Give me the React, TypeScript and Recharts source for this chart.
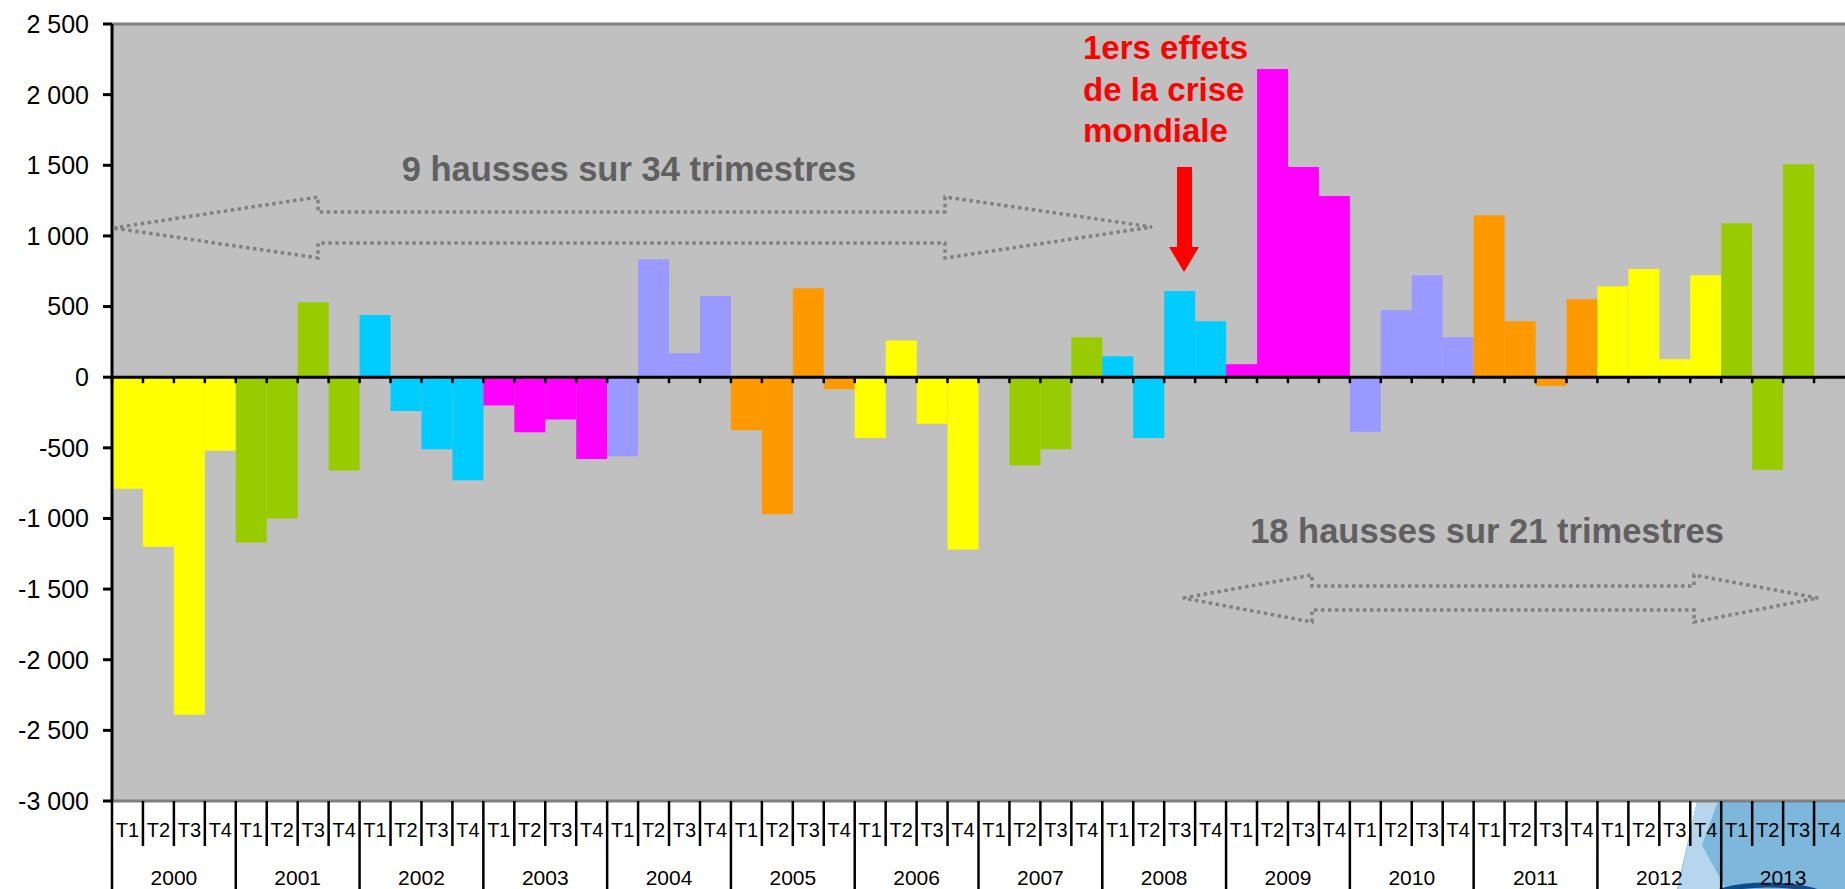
import React from "react";
import { Bar, BarChart, CartesianGrid, Cell, ReferenceLine, XAxis, YAxis } from "recharts";

const years = ["2000", "2001", "2002", "2003", "2004", "2005", "2006", "2007", "2008", "2009", "2010", "2011", "2012", "2013"];
const quarters = ["T1", "T2", "T3", "T4"];

// variation trimestrielle, T1..T4 par année
const values: (number | null)[] = [
  -790, -1200, -2390, -520, // 2000
  -1170, -1000, 530, -660, // 2001
  440, -240, -510, -730, // 2002
  -200, -390, -300, -580, // 2003
  -560, 835, 170, 575, // 2004
  -375, -970, 630, -85, // 2005
  -430, 260, -330, -1220, // 2006
  0, -625, -510, 283, // 2007
  148, -430, 610, 396, // 2008
  92, 2182, 1488, 1282, // 2009
  -387, 474, 722, 283, // 2010
  1147, 396, -62, 552, // 2011
  644, 765, 127, 722, // 2012
  1090, -656, 1508, null, // 2013
];

const yearColors = ["#FFFF00", "#99CC00", "#00CCFF", "#FF00FF", "#9999FF", "#FF9900"];
const yTicks = [-3000, -2500, -2000, -1500, -1000, -500, 0, 500, 1000, 1500, 2000, 2500];

const data = values.map((v, i) => ({
  label: `${years[Math.floor(i / 4)]} ${quarters[i % 4]}`,
  year: years[Math.floor(i / 4)],
  value: v,
}));

const W = 1845;
const H = 889;
const Y_AXIS_W = 112;
const BW = (W - Y_AXIS_W) / data.length;
const FONT = "'Liberation Sans', Arial, sans-serif";

const fmt = (v: number) => {
  const a = Math.abs(v);
  const s = a >= 1000 ? `${Math.floor(a / 1000)} ${String(a % 1000).padStart(3, "0")}` : String(a);
  return v < 0 ? `-${s}` : s;
};

const QuarterTick = (props: any) => {
  const { x, y, index } = props;
  const q = index % 4;
  const left = x - BW / 2;
  return (
    <g>
      <line x1={left} x2={left} y1={y} y2={q === 0 ? y + 90 : y + 45} stroke="#000" strokeWidth={2.5} />
      <text x={x} y={y + 29} textAnchor="middle" dominantBaseline="central" fontSize={20} fontFamily={FONT} fill="#000">
        {quarters[q]}
      </text>
      {q === 2 && (
        <text x={left} y={y + 76} textAnchor="middle" dominantBaseline="central" fontSize={21} fontFamily={FONT} fill="#000">
          {data[index].year}
        </text>
      )}
    </g>
  );
};

const ZeroAxis = (props: any) => {
  const x1 = Math.min(props.x1, props.x2);
  const x2 = Math.max(props.x1, props.x2);
  const y = props.y1;
  const step = (x2 - x1) / data.length;
  return (
    <g>
      <line x1={x1} x2={x2} y1={y} y2={y} stroke="#000" strokeWidth={3} />
      {data.map((_, i) => (
        <line key={i} x1={x1 + i * step} x2={x1 + i * step} y1={y} y2={y + 6} stroke="#000" strokeWidth={2.5} />
      ))}
    </g>
  );
};

const dotted = { fill: "none", stroke: "#808080", strokeWidth: 3.5, strokeDasharray: "3.5 3.5" };

export default function App() {
  return (
    <div style={{ position: "absolute", left: 0, top: 0, width: W, height: H, background: "#fff" }}>
      <svg width={W} height={H} style={{ position: "absolute", left: 0, top: 0 }}>
        <polygon points="1697,801 1845,801 1845,889 1677,889" fill="#7DB7DC" />
        <polygon points="1697,801 1718,801 1702,845 1726,889 1678,889" fill="#B5D6EC" />
        <ellipse cx={1768} cy={902} rx={62} ry={17} fill="none" stroke="#0D4B8C" strokeWidth={5} />
      </svg>
      <div style={{ position: "absolute", left: 0, top: 0 }}>
        <BarChart
          width={W}
          height={H}
          data={data}
          margin={{ top: 24, right: 0, bottom: 0, left: 0 }}
          barCategoryGap={0}
          barGap={0}
        >
          <CartesianGrid fill="#C0C0C0" horizontal={false} vertical={false} stroke="none" />
          <XAxis
            dataKey="label"
            interval={0}
            height={88}
            tickSize={0}
            tickMargin={0}
            tickLine={false}
            axisLine={{ stroke: "#808080", strokeWidth: 3 }}
            tick={<QuarterTick />}
          />
          <YAxis
            domain={[-3000, 2500]}
            ticks={yTicks}
            interval={0}
            width={Y_AXIS_W}
            tickSize={9}
            tickMargin={14}
            tickFormatter={fmt}
            tick={{ fill: "#000", fontSize: 25, fontFamily: FONT }}
            axisLine={{ stroke: "#000", strokeWidth: 3 }}
            tickLine={{ stroke: "#000", strokeWidth: 3 }}
          />
          <ReferenceLine y={2500} stroke="#808080" strokeWidth={3} />
          <Bar dataKey="value" isAnimationActive={false}>
            {data.map((d, i) => (
              <Cell key={d.label} fill={yearColors[Math.floor(i / 4) % yearColors.length]} />
            ))}
          </Bar>
          <ReferenceLine y={0} stroke="#000" strokeWidth={3} shape={ZeroAxis} />
        </BarChart>
      </div>
      <svg width={W} height={H} style={{ position: "absolute", left: 0, top: 0, pointerEvents: "none" }}>
        <polygon
          points="113,228 318,197 318,212 945,212 945,197 1152,227 945,258 945,243 318,243 318,258"
          {...dotted}
        />
        <polygon
          points="1183,598 1312,575 1312,586 1694,586 1694,575 1818,598 1694,622 1694,610 1312,610 1312,622"
          {...dotted}
        />
        <text x={629} y={181} textAnchor="middle" fontSize={34.5} fontWeight="bold" fontFamily={FONT} fill="#606060">
          9 hausses sur 34 trimestres
        </text>
        <text x={1487} y={543} textAnchor="middle" fontSize={34.5} fontWeight="bold" fontFamily={FONT} fill="#606060">
          18 hausses sur 21 trimestres
        </text>
        <g fontSize={33} fontWeight="bold" fontFamily={FONT} fill="#FF0000">
          <text x={1083} y={59}>1ers effets</text>
          <text x={1083} y={101}>de la crise</text>
          <text x={1083} y={142}>mondiale</text>
        </g>
        <polygon points="1177,167 1192,167 1192,247 1199,247 1184,272 1169,247 1177,247" fill="#FF0000" />
      </svg>
    </div>
  );
}
